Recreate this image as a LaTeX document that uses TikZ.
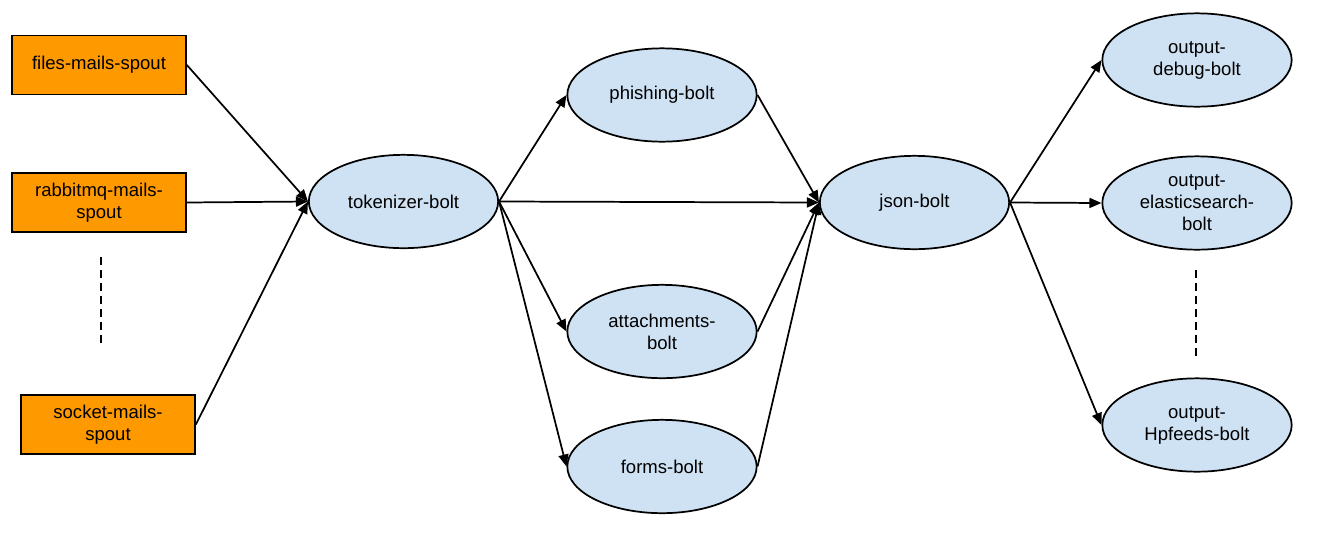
\documentclass[tikz,border=0pt]{standalone}
\usepackage{fontspec}
\setmainfont{Liberation Sans}
\usetikzlibrary{arrows.meta,shapes.geometric}
\definecolor{spoutfill}{HTML}{FF9900}
\definecolor{boltfill}{HTML}{CFE2F3}
\begin{document}
\begin{tikzpicture}[x=0.75pt,y=-0.75pt,
  every node/.style={font=\fontsize{13.9pt}{16.5pt}\selectfont, align=center},
  spout/.style={draw=black, line width=1.3pt, fill=spoutfill, rectangle, inner sep=0pt,
    minimum width=130.5pt, minimum height=44.25pt},
  bolt/.style={draw=black, line width=1.3pt, fill=boltfill, ellipse, inner sep=0pt,
    minimum width=142pt, minimum height=70pt},
  conn/.style={line width=1.3pt, -{Triangle[length=9pt,width=7.5pt]}},
  gap/.style={line width=1.3pt, dash pattern=on 6pt off 3.75pt}
]
\useasboundingbox (0,0) rectangle (1321,547);
% spouts
\node[spout] (files) at (99,65) {files-mails-spout};
\node[spout] (rabbit) at (99,202.5) {rabbitmq-mails-\\spout};
\node[spout] (socket) at (108,424.5) {socket-mails-\\spout};
% bolts
\node[bolt] (tok) at (403.5,201.5) {tokenizer-bolt};
\node[bolt] (phish) at (662,95) {phishing-bolt};
\node[bolt] (attach) at (662,331.5) {attachments-\\bolt};
\node[bolt] (forms) at (662,466.5) {forms-bolt};
\node[bolt] (json) at (914.5,202.5) {json-bolt};
\node[bolt] (debug) at (1197,60) {output-\\debug-bolt};
\node[bolt] (elastic) at (1197,203) {output-\\elasticsearch-\\bolt};
\node[bolt] (hp) at (1197,425) {output-\\Hpfeeds-bolt};
% dashed gaps
\coordinate (g1a) at (101,257);
\coordinate (g1b) at (101,345);
\coordinate (g2a) at (1196,270);
\coordinate (g2b) at (1196,359);
\draw[gap] (g1a) -- (g1b);
\draw[gap] (g2a) -- (g2b);
% connectors
\draw[conn] (files.east) -- (tok.west);
\draw[conn] (rabbit.east) -- (tok.west);
\draw[conn] (socket.east) -- (tok.west);
\draw[conn] (tok.east) -- (phish.west);
\draw[conn] (tok.east) -- (json.west);
\draw[conn] (tok.east) -- (attach.west);
\draw[conn] (tok.east) -- (forms.west);
\draw[conn] (phish.east) -- (json.west);
\draw[conn] (attach.east) -- (json.west);
\draw[conn] (forms.east) -- (json.west);
\draw[conn] (json.east) -- (debug.west);
\draw[conn] (json.east) -- (elastic.west);
\draw[conn] (json.east) -- (hp.west);
\end{tikzpicture}
\end{document}
